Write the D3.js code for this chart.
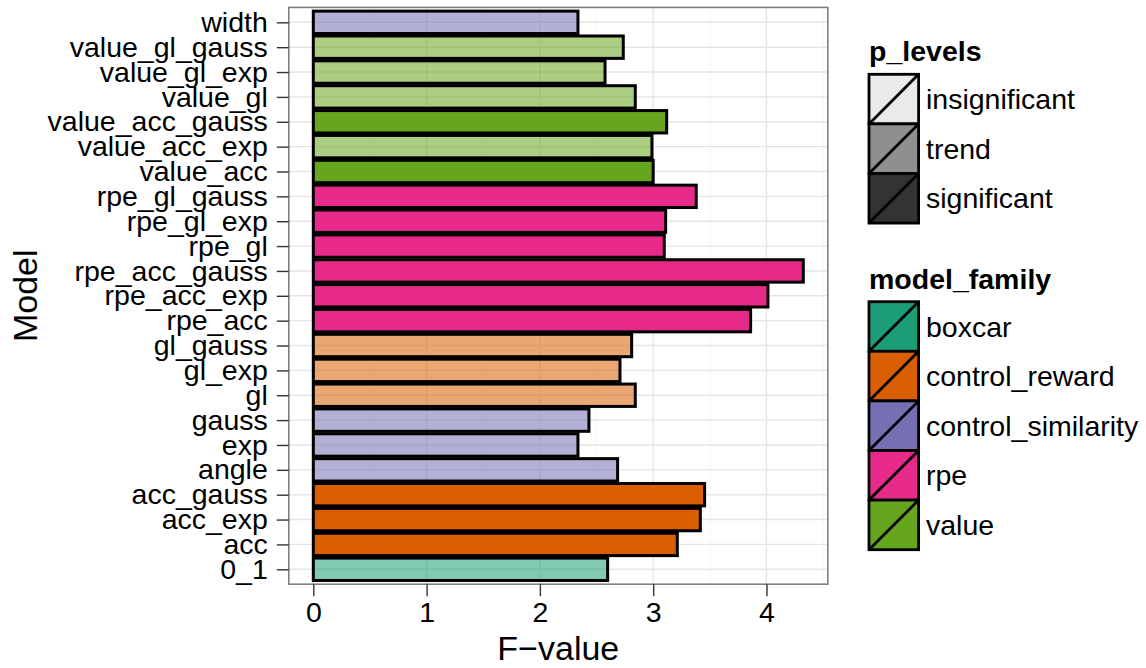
<!DOCTYPE html>
<html>
<head>
<meta charset="utf-8">
<script src="https://cdn.jsdelivr.net/npm/d3@7"></script>
<style>
  html, body { margin: 0; padding: 0; background: #fff; }
  svg { display: block; font-family: "Liberation Sans", Arial, Helvetica, sans-serif; }
</style>
</head>
<body>
<svg id="chart" width="1146" height="668"></svg>
<script>
// Models in factor order (first level sits at the bottom of the axis)
const models = ["0_1","acc","acc_exp","acc_gauss","angle","exp","gauss","gl","gl_exp","gl_gauss",
  "rpe_acc","rpe_acc_exp","rpe_acc_gauss","rpe_gl","rpe_gl_exp","rpe_gl_gauss",
  "value_acc","value_acc_exp","value_acc_gauss","value_gl","value_gl_exp","value_gl_gauss","width"];
const fValues = [2.598,3.213,3.416,3.454,2.686,2.336,2.433,2.842,2.707,2.810,
  3.860,4.013,4.325,3.098,3.110,3.380,
  3.000,2.989,3.119,2.842,2.575,2.736,2.336];
const families = ["boxcar","control_reward","control_reward","control_reward",
  "control_similarity","control_similarity","control_similarity",
  "control_reward","control_reward","control_reward",
  "rpe","rpe","rpe","rpe","rpe","rpe",
  "value","value","value","value","value","value","control_similarity"];
const pLevels = ["trend","significant","significant","significant","trend","trend","trend",
  "trend","trend","trend",
  "significant","significant","significant","significant","significant","significant",
  "significant","trend","significant","trend","trend","trend","trend"];

const familyNames = ["boxcar","control_reward","control_similarity","rpe","value"];
const familyColors = ["#1B9E77","#D95F02","#7570B3","#E7298A","#66A61E"];
const levelNames = ["insignificant","trend","significant"];
const levelAlphas = [0.1, 0.55, 1];
const xTicks = [0,1,2,3,4];

const rows = models.map((m, i) => ({model: m, value: fValues[i], family: families[i], level: pLevels[i]}));

const svg = d3.select("#chart");
const panel = {left: 288.8, right: 827.8, top: 7.4, bottom: 584.2};
const FONT = 28.5;

const maxV = d3.max(fValues);
const x = d3.scaleLinear()
  .domain([-0.05 * maxV, maxV * 1.05])
  .range([panel.left, panel.right]);

const y = d3.scalePoint()
  .domain(models.slice().reverse())
  .range([panel.top, panel.bottom])
  .padding(0.6);
const step = y.step();

const fill = d3.scaleOrdinal().domain(familyNames).range(familyColors);
const alpha = d3.scaleOrdinal().domain(levelNames).range(levelAlphas);

// Panel background and grid
svg.append("rect")
  .attr("x", panel.left).attr("y", panel.top)
  .attr("width", panel.right - panel.left).attr("height", panel.bottom - panel.top)
  .attr("fill", "#fff");

const minorTicks = d3.range(-0.5, 5, 1).filter(v => x(v) > panel.left && x(v) < panel.right);
svg.append("g").selectAll("line").data(minorTicks).join("line")
  .attr("x1", d => x(d)).attr("x2", d => x(d))
  .attr("y1", panel.top).attr("y2", panel.bottom)
  .attr("stroke", "#f7f7f7").attr("stroke-width", 1.2);

svg.append("g").selectAll("line").data(xTicks).join("line")
  .attr("x1", d => x(d)).attr("x2", d => x(d))
  .attr("y1", panel.top).attr("y2", panel.bottom)
  .attr("stroke", "#e5e5e5").attr("stroke-width", 1.4);

svg.append("g").selectAll("line").data(models).join("line")
  .attr("x1", panel.left).attr("x2", panel.right)
  .attr("y1", d => y(d)).attr("y2", d => y(d))
  .attr("stroke", "#e5e5e5").attr("stroke-width", 1.4);

// Bars: family fill with significance alpha, heavy black outline
const barH = step * 0.9;
svg.append("g").selectAll("rect").data(rows).join("rect")
  .attr("x", x(0)).attr("y", d => y(d.model) - barH / 2)
  .attr("width", d => x(d.value) - x(0)).attr("height", barH)
  .attr("fill", d => fill(d.family))
  .attr("fill-opacity", d => alpha(d.level))
  .attr("stroke", "#000").attr("stroke-width", 3);

// Panel border
svg.append("rect")
  .attr("x", panel.left).attr("y", panel.top)
  .attr("width", panel.right - panel.left).attr("height", panel.bottom - panel.top)
  .attr("fill", "none").attr("stroke", "#7f7f7f").attr("stroke-width", 1.6);

// Axes
const xAxis = svg.append("g")
  .attr("transform", `translate(0,${panel.bottom})`)
  .call(d3.axisBottom(x).tickValues(xTicks).tickSize(12).tickPadding(6).tickFormat(d3.format("d")));
xAxis.select(".domain").remove();
xAxis.selectAll(".tick line").attr("stroke", "#333").attr("stroke-width", 1.4);
xAxis.selectAll("text").attr("font-size", FONT).attr("fill", "#000")
  .attr("font-family", "'Liberation Sans', Arial, sans-serif");

const yAxis = svg.append("g")
  .attr("transform", `translate(${panel.left},0)`)
  .call(d3.axisLeft(y).tickSize(12).tickPadding(9));
yAxis.select(".domain").remove();
yAxis.selectAll(".tick line").attr("stroke", "#333").attr("stroke-width", 1.4);
yAxis.selectAll("text").attr("font-size", FONT).attr("fill", "#000")
  .attr("font-family", "'Liberation Sans', Arial, sans-serif");

// Axis titles
svg.append("text")
  .attr("x", (panel.left + panel.right) / 2).attr("y", 660)
  .attr("text-anchor", "middle").attr("font-size", 34).attr("fill", "#000")
  .text("F\u2212value");
svg.append("text")
  .attr("transform", `translate(37,${(panel.top + panel.bottom) / 2}) rotate(-90)`)
  .attr("text-anchor", "middle").attr("font-size", 34).attr("fill", "#000")
  .text("Model");

// Legends
const keyX = 869, keySize = 49.6, labelX = 926;
function legend(title, titleY, keyTop, names, fillFn, opacityFn) {
  const g = svg.append("g");
  g.append("text").attr("x", keyX).attr("y", titleY)
    .attr("font-size", FONT).attr("font-weight", "bold").attr("fill", "#000").text(title);
  names.forEach((n, i) => {
    const ky = keyTop + i * keySize;
    g.append("rect").attr("x", keyX).attr("y", ky).attr("width", keySize).attr("height", keySize)
      .attr("fill", "#fff");
    g.append("rect").attr("x", keyX).attr("y", ky).attr("width", keySize).attr("height", keySize)
      .attr("fill", fillFn(n)).attr("fill-opacity", opacityFn(n))
      .attr("stroke", "#000").attr("stroke-width", 2.8);
    g.append("line").attr("x1", keyX).attr("y1", ky + keySize).attr("x2", keyX + keySize).attr("y2", ky)
      .attr("stroke", "#000").attr("stroke-width", 2.8);
    g.append("text").attr("x", labelX).attr("y", ky + keySize / 2)
      .attr("dominant-baseline", "central").attr("font-size", FONT).attr("fill", "#000").text(n);
  });
}
legend("p_levels", 61, 74.3, levelNames, () => "#333333", n => alpha(n));
legend("model_family", 289, 301.7, familyNames, n => fill(n), () => 1);
</script>
</body>
</html>
